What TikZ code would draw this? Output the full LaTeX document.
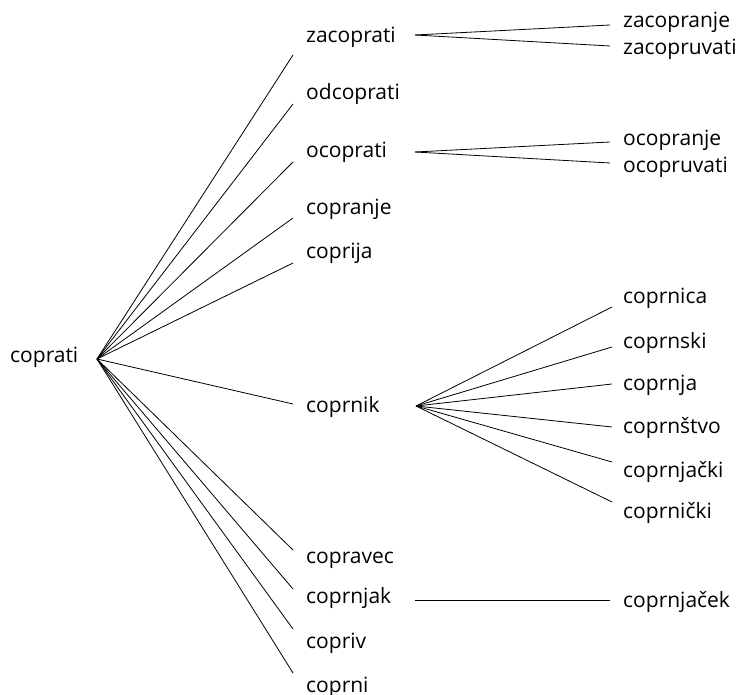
\documentclass[tikz,border=0pt]{standalone}
\usepackage{fontspec}
\setmainfont{Open Sans}
\begin{document}
\begin{tikzpicture}[x=1pt,y=-1pt,
  lbl/.style={anchor=base west, inner sep=0pt, font=\fontsize{21}{25}\selectfont},
  edge/.style={line width=0.8pt, black}]
\useasboundingbox (0,0) rectangle (742,695);
% labels
\node[lbl] (root) at (10,362) {coprati};
\node[lbl] (zac) at (306,43) {zacoprati};
\node[lbl] (odc) at (306,100) {odcoprati};
\node[lbl] (oco) at (306,158) {ocoprati};
\node[lbl] (cpj) at (306,215) {copranje};
\node[lbl] (cpr) at (306,259) {coprija};
\node[lbl] (cnk) at (306,412) {coprnik};
\node[lbl] (cpv) at (306,563) {copravec};
\node[lbl] (cnj) at (306,603) {coprnjak};
\node[lbl] (civ) at (306,648) {copriv};
\node[lbl] (cni) at (306,692) {coprni};
\node[lbl] (zacA) at (623,28) {zacopranje};
\node[lbl] (zacB) at (623,55) {zacopruvati};
\node[lbl] (ocoA) at (623,146) {ocopranje};
\node[lbl] (ocoB) at (623,173) {ocopruvati};
\node[lbl] (kA) at (623,303) {coprnica};
\node[lbl] (kB) at (623,348) {coprnski};
\node[lbl] (kC) at (623,390) {coprnja};
\node[lbl] (kD) at (623,433) {coprnštvo};
\node[lbl] (kE) at (623,477) {coprnjački};
\node[lbl] (kF) at (623,518) {coprnički};
\node[lbl] (jA) at (623,607) {coprnjaček};
% connector ends
\coordinate (root-o) at (97,359);
\coordinate (zac-i) at (293,55);
\coordinate (odc-i) at (293,104);
\coordinate (oco-i) at (293,162);
\coordinate (cpj-i) at (293,218);
\coordinate (cpr-i) at (293,263);
\coordinate (cnk-i) at (293,404);
\coordinate (cpv-i) at (293,550);
\coordinate (cnj-i) at (293,589);
\coordinate (civ-i) at (293,629);
\coordinate (cni-i) at (293,673);
\coordinate (zac-o) at (415,35);
\coordinate (oco-o) at (415,152);
\coordinate (cnk-o) at (416,406);
\coordinate (cnj-o) at (415,600);
\coordinate (zacA-i) at (610,25);
\coordinate (zacB-i) at (610,46);
\coordinate (ocoA-i) at (610,142);
\coordinate (ocoB-i) at (610,163);
\coordinate (kA-i) at (612,307);
\coordinate (kB-i) at (612,347);
\coordinate (kC-i) at (612,384);
\coordinate (kD-i) at (612,427);
\coordinate (kE-i) at (612,462);
\coordinate (kF-i) at (612,502);
\coordinate (jA-i) at (610,600);
% connectors
\foreach \c in {zac,odc,oco,cpj,cpr,cnk,cpv,cnj,civ,cni}
  \draw[edge] (root-o) -- (\c-i);
\foreach \c in {zacA,zacB} \draw[edge] (zac-o) -- (\c-i);
\foreach \c in {ocoA,ocoB} \draw[edge] (oco-o) -- (\c-i);
\foreach \c in {kA,kB,kC,kD,kE,kF} \draw[edge] (cnk-o) -- (\c-i);
\draw[edge] (cnj-o) -- (jA-i);
\end{tikzpicture}
\end{document}
